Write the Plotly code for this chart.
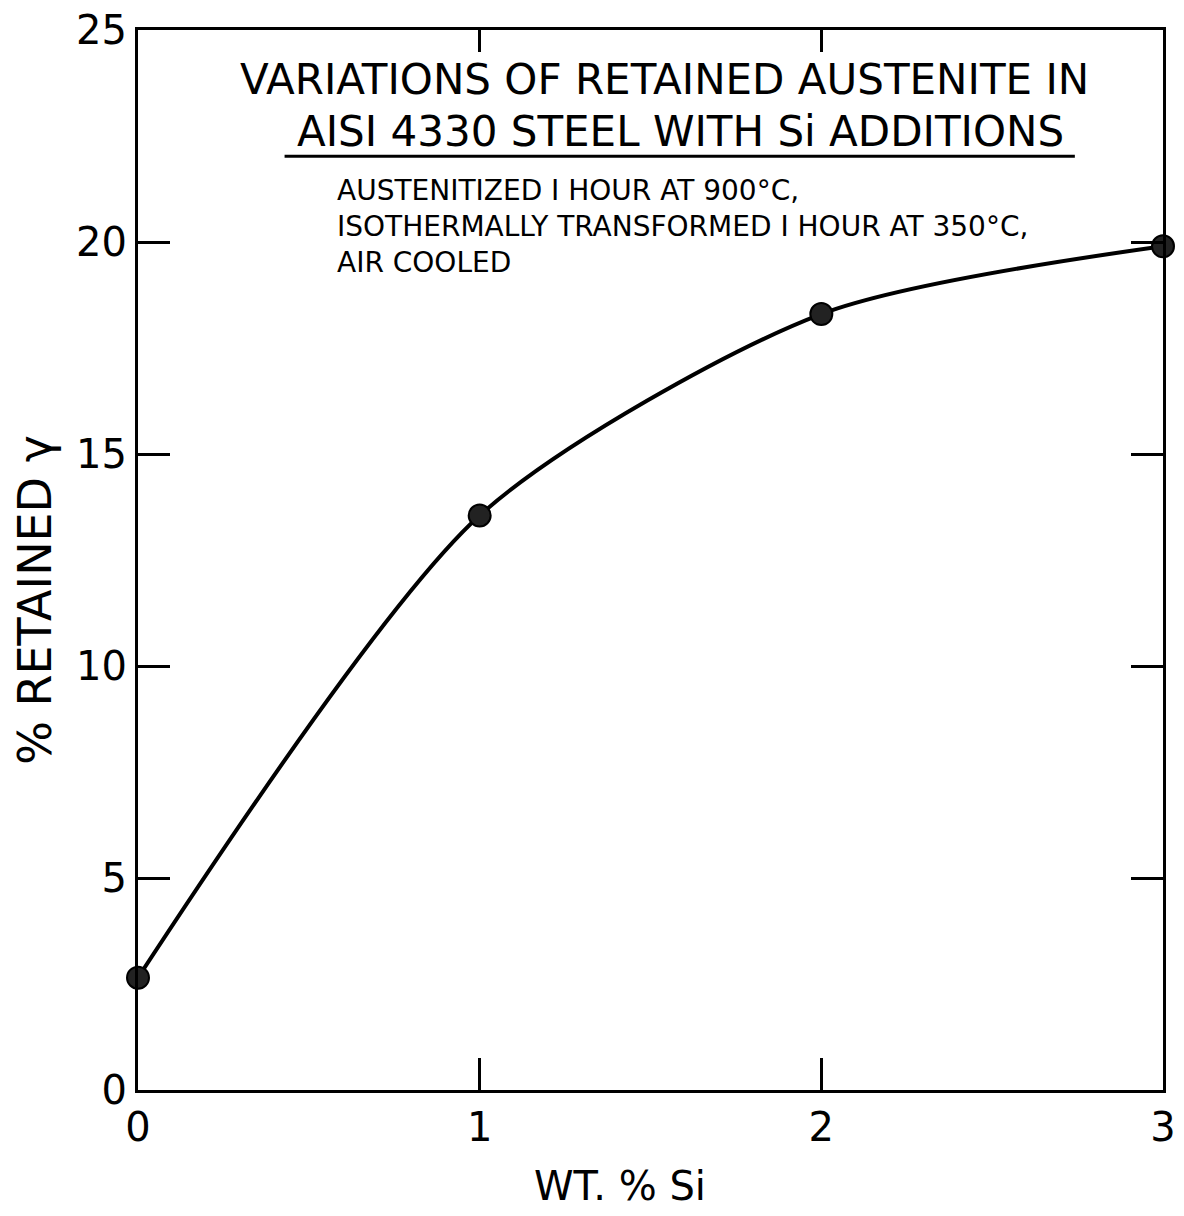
import plotly.graph_objects as go

# Data
si_wt = [0, 1, 2, 3]
retained_gamma = [2.65, 13.55, 18.3, 19.9]

x_ticks = [0, 1, 2, 3]
x_ticklabels = ["0", "1", "2", "3"]
y_ticks = [0, 5, 10, 15, 20, 25]
y_ticklabels = ["0", "5", "10", "15", "20", "25"]

title_line1 = "VARIATIONS OF RETAINED AUSTENITE IN"
title_line2 = "AISI 4330 STEEL WITH Si ADDITIONS"
sub_lines = ["AUSTENITIZED I HOUR AT 900°C,",
             "ISOTHERMALLY TRANSFORMED I HOUR AT 350°C,",
             "AIR COOLED"]
x_title = "WT. % Si"
y_title = "% RETAINED γ"

FONT = "DejaVu Sans"
fig = go.Figure()

fig.add_trace(go.Scatter(
    x=si_wt, y=retained_gamma, mode="lines+markers",
    line=dict(color="black", width=4, shape="spline", smoothing=0.75),
    marker=dict(size=22, color="#222", line=dict(color="black", width=2)),
    showlegend=False, cliponaxis=False,
))

axis_common = dict(showline=True, linecolor="black", linewidth=3, mirror=False,
                   ticks="inside", ticklen=32, tickwidth=2.5, tickcolor="black",
                   showgrid=False, zeroline=False, automargin=False,
                   tickfont=dict(family=FONT, size=40, color="black"))

fig.update_layout(
    width=1184, height=1216,
    margin=dict(l=138, r=21, t=30, b=126),
    paper_bgcolor="white", plot_bgcolor="white",
    xaxis=dict(range=[0, 3], tickvals=x_ticks, ticktext=x_ticklabels, **axis_common),
    yaxis=dict(range=[0, 25], tickvals=y_ticks, ticktext=y_ticklabels, **axis_common),
    xaxis2=dict(range=[0, 3], overlaying="x", side="top", tickvals=[1, 2],
                showticklabels=False, showline=True, linecolor="black", linewidth=3,
                ticks="inside", ticklen=22, tickwidth=2.5, tickcolor="black",
                showgrid=False, zeroline=False, anchor="y", automargin=False),
    yaxis2=dict(range=[0, 25], overlaying="y", side="right", tickvals=[5, 10, 15, 20],
                showticklabels=False, showline=True, linecolor="black", linewidth=3,
                ticks="inside", ticklen=32, tickwidth=2.5, tickcolor="black",
                showgrid=False, zeroline=False, anchor="x", automargin=False),
)

fig.add_trace(go.Scatter(x=[None], y=[None], xaxis="x2", yaxis="y2", showlegend=False, hoverinfo="skip"))

# axis titles
fig.add_annotation(text=x_title, xref="paper", yref="paper", x=0.47, y=-0.091,
                   showarrow=False, xanchor="center", yanchor="middle",
                   font=dict(family=FONT, size=40, color="black"))
fig.add_annotation(text=y_title, xref="paper", yref="paper", x=-0.1, y=0.462, textangle=-90,
                   showarrow=False, xanchor="center", yanchor="middle",
                   font=dict(family=FONT, size=46, color="black"))

# title block
fig.add_annotation(text=title_line1, xref="paper", yref="paper", x=0.514, y=0.953,
                   showarrow=False, xanchor="center", yanchor="middle",
                   font=dict(family=FONT, size=42, color="black"))
fig.add_annotation(text=title_line2, xref="paper", yref="paper", x=0.529, y=0.904,
                   showarrow=False, xanchor="center", yanchor="middle",
                   font=dict(family=FONT, size=42, color="black"))
fig.add_shape(type="line", xref="paper", yref="paper", x0=0.143, x1=0.914, y0=0.881, y1=0.881,
              line=dict(color="black", width=3))
for i, s in enumerate(sub_lines):
    fig.add_annotation(text=s, xref="paper", yref="paper", x=0.192, y=0.849 - i * 0.034,
                       showarrow=False, xanchor="left", yanchor="middle",
                       font=dict(family=FONT, size=28, color="black"))

fig.write_html("out.html")
